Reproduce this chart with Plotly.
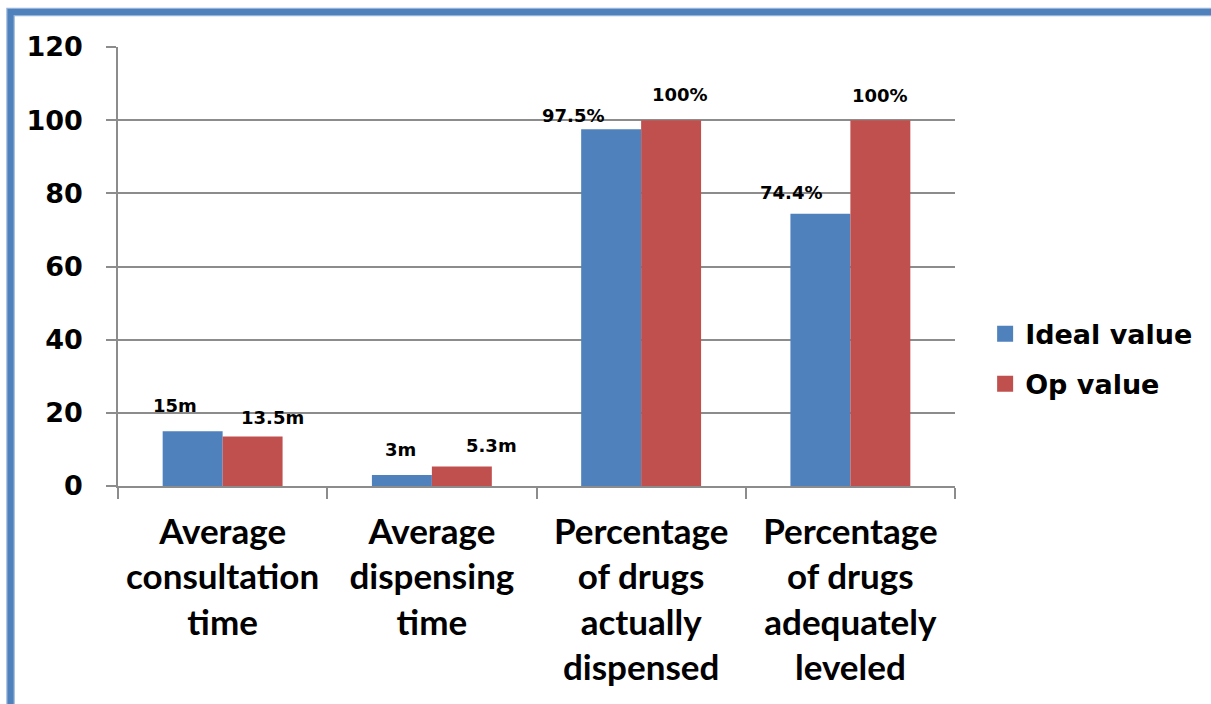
import plotly.graph_objects as go

categories = [
    "Average<br>consultation<br>time",
    "Average<br>dispensing<br>time",
    "Percentage<br>of drugs<br>actually<br>dispensed",
    "Percentage<br>of drugs<br>adequately<br>leveled",
]
ideal_values = [15, 3, 97.5, 74.4]
op_values = [13.5, 5.3, 100, 100]
ideal_labels = ["15m", "3m", "97.5%", "74.4%"]
op_labels = ["13.5m", "5.3m", "100%", "100%"]

# label offsets (pixels) relative to the category centre / bar top
ideal_label_shift = [(-48, 26), (-31, 26), (-68, 14), (-59, 21)]
op_label_shift = [(50, 19), (60, 21), (39, 26), (30, 25)]

BLUE = "#4F81BD"
RED = "#C0504D"
GRID = "#8c8c8c"
LABEL_FONT = dict(family="DejaVu Sans", size=18, color="black")

fig = go.Figure()
fig.add_trace(go.Bar(x=categories, y=ideal_values, name="Ideal value",
                     marker=dict(color=BLUE, line=dict(width=0)), showlegend=False))
fig.add_trace(go.Bar(x=categories, y=op_values, name="Op value",
                     marker=dict(color=RED, line=dict(width=0)), showlegend=False))

# legend entries with larger square swatches
for name, color in [("Ideal value", BLUE), ("Op value", RED)]:
    fig.add_trace(go.Scatter(x=[None], y=[None], mode="markers", name=name,
                             legendgroup=name,
                             marker=dict(symbol="square", size=18, color=color)))

annotations = []
for cat, val, lab, (dx, dy) in zip(categories, ideal_values, ideal_labels, ideal_label_shift):
    annotations.append(dict(x=cat, y=val, xref="x", yref="y", text="<b>%s</b>" % lab,
                            showarrow=False, xshift=dx, yshift=dy,
                            xanchor="center", yanchor="middle", font=LABEL_FONT))
for cat, val, lab, (dx, dy) in zip(categories, op_values, op_labels, op_label_shift):
    annotations.append(dict(x=cat, y=val, xref="x", yref="y", text="<b>%s</b>" % lab,
                            showarrow=False, xshift=dx, yshift=dy,
                            xanchor="center", yanchor="middle", font=LABEL_FONT))

fig.update_layout(
    width=1211, height=704,
    margin=dict(l=118, r=256, t=47, b=218),
    paper_bgcolor="white", plot_bgcolor="white",
    barmode="group", bargap=0.427, bargroupgap=0,
    annotations=annotations,
    legend=dict(x=1.036, y=0.289, xanchor="left", yanchor="middle",
                font=dict(family="DejaVu Sans", size=27, color="black", weight="bold"),
                traceorder="grouped", tracegroupgap=12,
                bgcolor="rgba(0,0,0,0)"),
    shapes=[
        dict(type="rect", xref="paper", yref="paper",
             x0=-0.1284, x1=2.0, y0=-2.0, y1=1.0797,
             line=dict(color="#95B3D7", width=8.5), fillcolor="rgba(0,0,0,0)", layer="below"),
        dict(type="rect", xref="paper", yref="paper",
             x0=-0.1284, x1=2.0, y0=-2.0, y1=1.0797,
             line=dict(color=BLUE, width=6), fillcolor="rgba(0,0,0,0)", layer="below"),
    ],
)

fig.update_yaxes(
    range=[0, 120], dtick=20, tick0=0,
    showgrid=True, gridcolor=GRID, gridwidth=1.5,
    showline=True, linecolor=GRID, linewidth=1.5,
    ticks="outside", ticklen=10, tickcolor=GRID, tickwidth=1.5,
    ticklabelstandoff=18,
    tickfont=dict(family="DejaVu Sans", size=27, color="black", weight="bold"),
    zeroline=False,
)
fig.update_xaxes(
    showline=True, linecolor=GRID, linewidth=1.5,
    ticks="outside", ticklen=11, tickcolor=GRID, tickwidth=1.5,
    tickson="boundaries", ticklabelstandoff=14,
    tickfont=dict(family="Lato", size=35, color="black", weight="bold"),
    tickangle=0,
)

fig.write_html("out.html")
